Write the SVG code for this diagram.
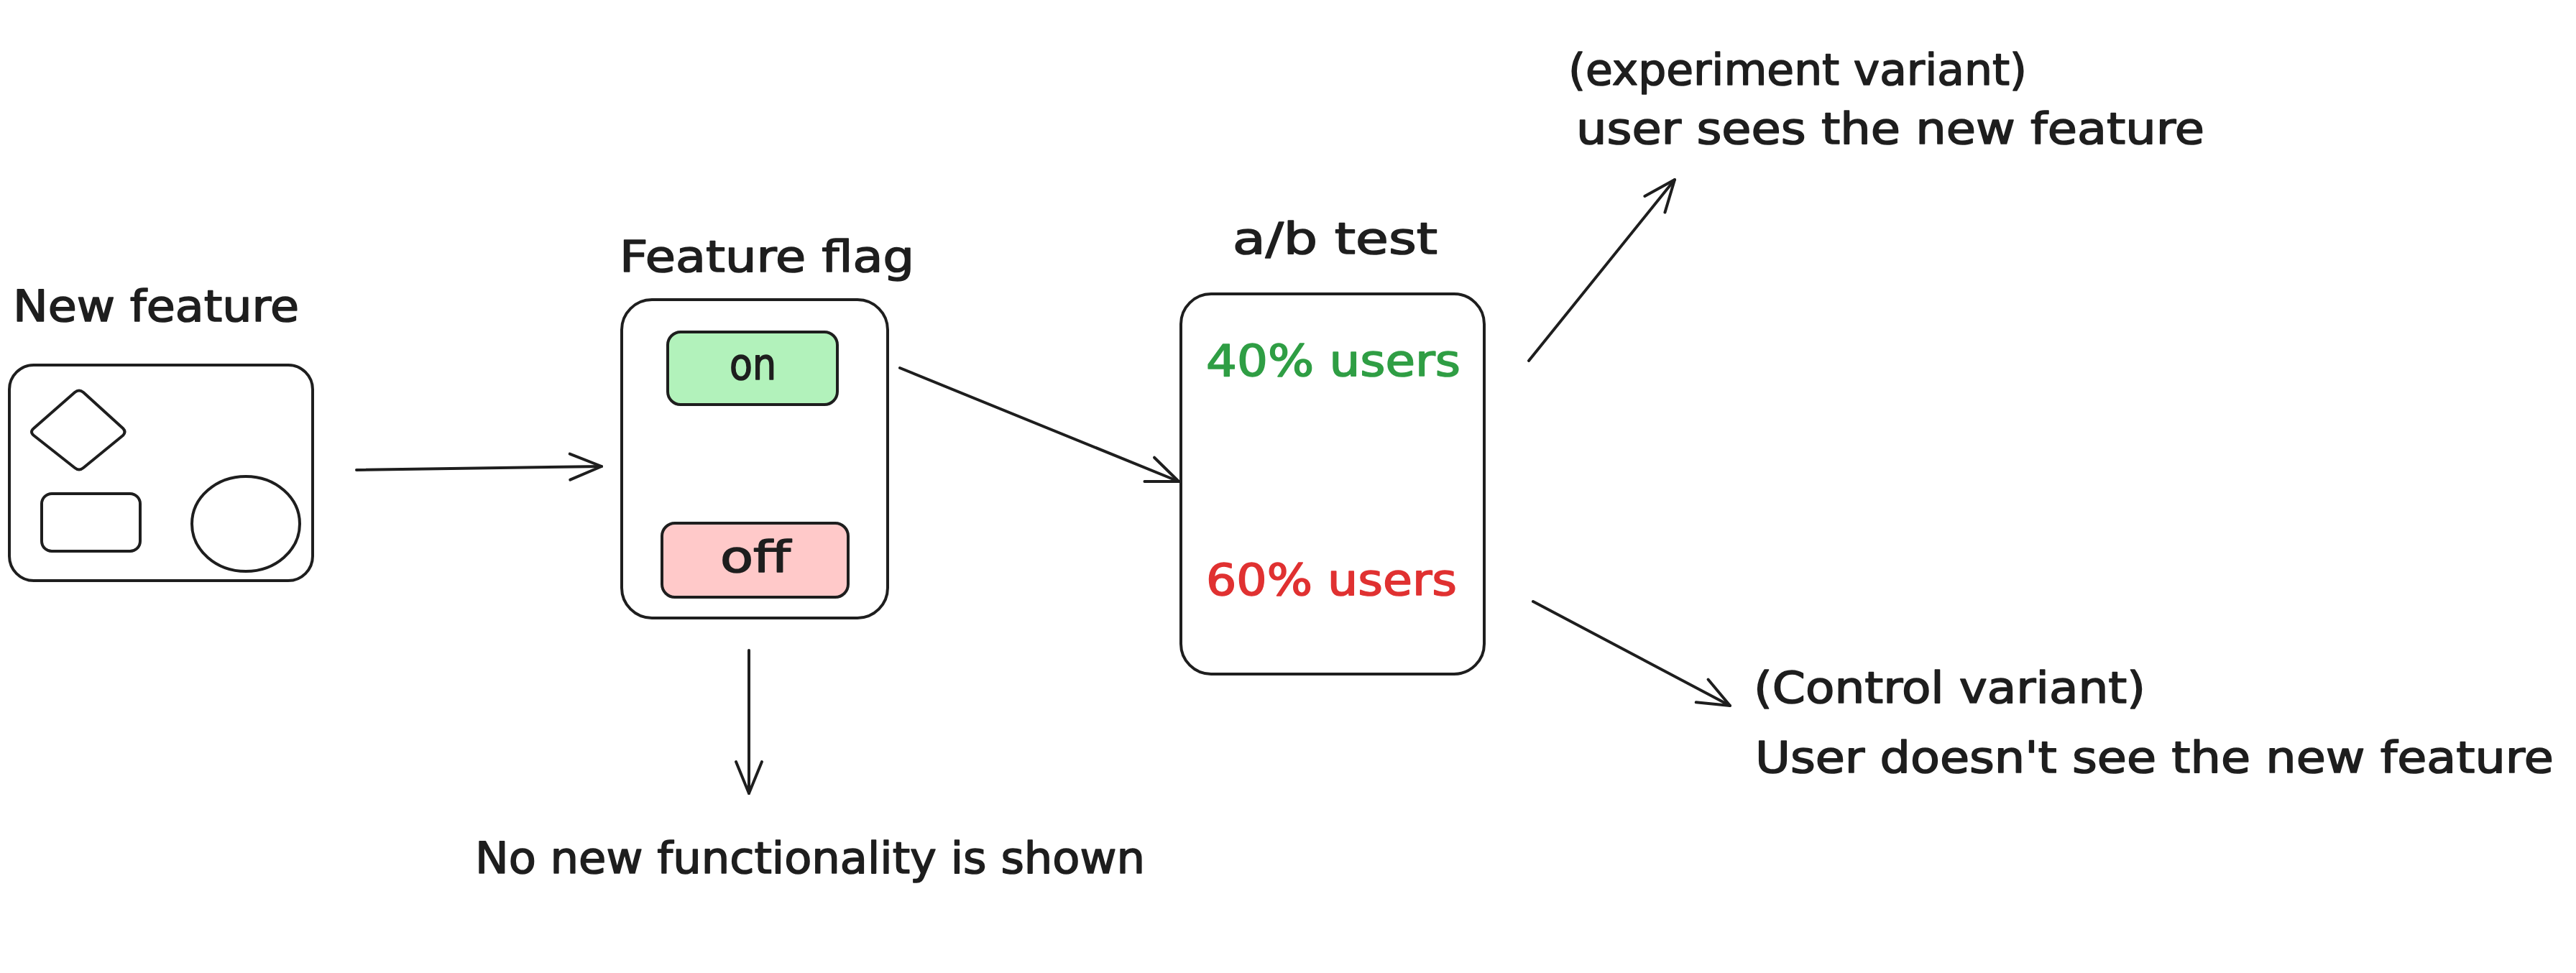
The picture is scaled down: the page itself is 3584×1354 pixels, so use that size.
<svg xmlns="http://www.w3.org/2000/svg" width="3584" height="1354" viewBox="0 0 3584 1354">
<style>
  .shape { fill: none; stroke: #1e1e1e; stroke-width: 4; stroke-linejoin: round; stroke-linecap: round; }
  .t { font-family: "DejaVu Sans", "Liberation Sans", sans-serif; font-size: 60px; fill: #1e1e1e; stroke: #1e1e1e; stroke-width: 1.6; stroke-linejoin: round; }
  .green { fill: #2f9e44; stroke: #2f9e44; }
  .red { fill: #e03131; stroke: #e03131; }
  .conn { fill: none; stroke: #1e1e1e; stroke-width: 4; stroke-linecap: round; }
</style>
<defs>
  <marker id="arrow" markerUnits="userSpaceOnUse" viewBox="-50 -25 60 50" refX="0" refY="0" markerWidth="60" markerHeight="50" orient="auto" overflow="visible">
    <path d="M-44,-18 L0,0 L-44,18" fill="none" stroke="#1e1e1e" stroke-width="4" stroke-linecap="round" stroke-linejoin="round"/>
  </marker>
</defs>
<rect width="3584" height="1354" fill="#ffffff"/>

<g id="new-feature">
  <text class="t" x="18" y="447" textLength="398" lengthAdjust="spacingAndGlyphs">New feature</text>
  <rect class="shape" x="13" y="508" width="422" height="300" rx="34"/>
  <path class="shape" d="M104,546 Q110,541 116,546 L171,596 Q176,601 171,606 L116,651 Q110,656 104,651 L47,606 Q41,601 47,596 Z"/>
  <rect class="shape" x="58" y="687" width="137" height="80" rx="14"/>
  <ellipse class="shape" cx="342" cy="729" rx="75" ry="66"/>
</g>

<g id="feature-flag">
  <text class="t" x="862" y="378" textLength="410" lengthAdjust="spacingAndGlyphs">Feature flag</text>
  <rect class="shape" x="865" y="417" width="370" height="443" rx="42"/>
  <g id="flag-on">
    <rect class="shape" x="929" y="462" width="236" height="101" rx="18" style="fill:#b2f2bb"/>
    <text class="t" x="1015" y="528" textLength="65" lengthAdjust="spacingAndGlyphs">on</text>
  </g>
  <g id="flag-off">
    <rect class="shape" x="921" y="728" width="259" height="103" rx="18" style="fill:#ffc9c9"/>
    <text class="t" x="1002" y="796" textLength="98" lengthAdjust="spacingAndGlyphs">off</text>
  </g>
</g>

<g id="ab-test">
  <text class="t" x="1715" y="353" textLength="285" lengthAdjust="spacingAndGlyphs">a/b test</text>
  <rect class="shape" x="1643" y="409" width="422" height="529" rx="42"/>
  <text class="t green" x="1678" y="523" textLength="354" lengthAdjust="spacingAndGlyphs">40% users</text>
  <text class="t red" x="1678" y="828" textLength="349" lengthAdjust="spacingAndGlyphs">60% users</text>
</g>

<g id="experiment-label">
  <text class="t" x="2182" y="118" textLength="638" lengthAdjust="spacingAndGlyphs">(experiment variant)</text>
  <text class="t" x="2193" y="200" textLength="874" lengthAdjust="spacingAndGlyphs">user sees the new feature</text>
</g>

<g id="control-label">
  <text class="t" x="2440" y="978" textLength="545" lengthAdjust="spacingAndGlyphs">(Control variant)</text>
  <text class="t" x="2442" y="1075" textLength="1111" lengthAdjust="spacingAndGlyphs">User doesn't see the new feature</text>
</g>

<g id="off-label">
  <text class="t" x="661" y="1215" textLength="932" lengthAdjust="spacingAndGlyphs">No new functionality is shown</text>
</g>

<g id="connectors">
  <path class="conn" d="M496,654 L837,649" marker-end="url(#arrow)"/>
  <path class="conn" d="M1252,512 L1640,670" marker-end="url(#arrow)"/>
  <path class="conn" d="M1042,905 L1042,1104" marker-end="url(#arrow)"/>
  <path class="conn" d="M2127,502 L2330,250" marker-end="url(#arrow)"/>
  <path class="conn" d="M2133,837 L2407,982" marker-end="url(#arrow)"/>
</g>
</svg>
